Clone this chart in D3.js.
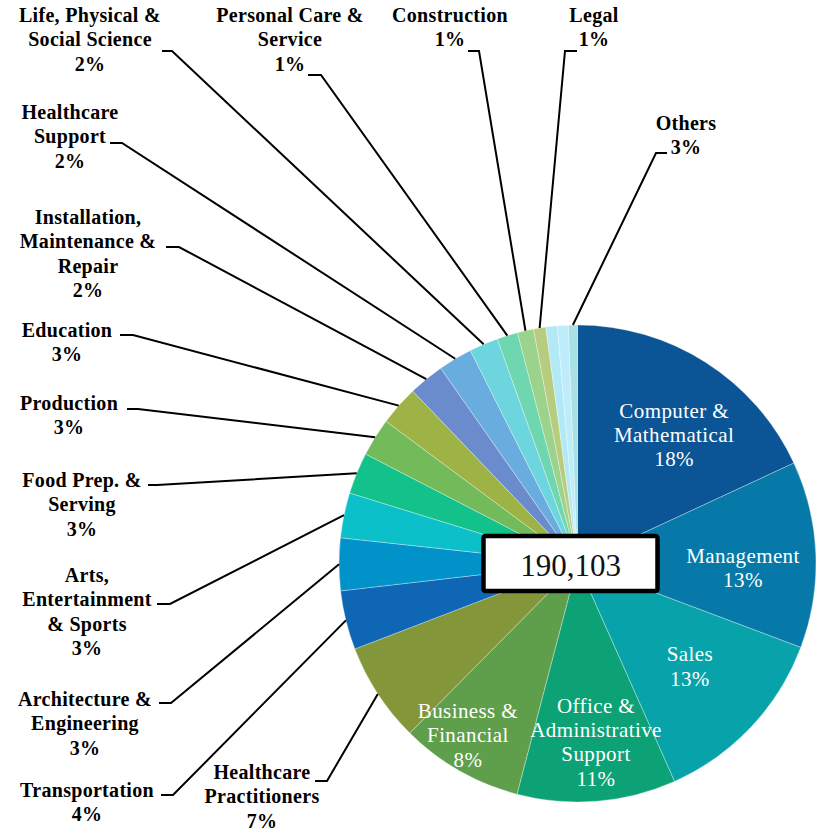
<!DOCTYPE html>
<html>
<head>
<meta charset="utf-8">
<script src="https://cdn.jsdelivr.net/npm/d3@7"></script>
<style>
  body { margin: 0; background: #fff; }
  svg { display: block; }
  text { font-family: "Liberation Serif", "DejaVu Serif", "Times New Roman", serif; }
</style>
</head>
<body>
<svg id="chart"></svg>
<script>
// Occupation categories, clockwise from 12 o'clock ("\n" = line break in label)
const categories = [
  "Computer &\nMathematical", "Management", "Sales",
  "Office &\nAdministrative\nSupport", "Business &\nFinancial",
  "Healthcare\nPractitioners", "Transportation", "Architecture &\nEngineering",
  "Arts,\nEntertainment\n& Sports", "Food Prep. &\nServing", "Production",
  "Education", "Installation,\nMaintenance &\nRepair", "Healthcare\nSupport",
  "Life, Physical &\nSocial Science", "Personal Care &\nService",
  "Construction", "Legal", "", "", "Others"
];

// Employees per category (total 190,103)
const employees = [
  34377, 24027, 23974, 20436, 15842, 12832, 7604, 6759, 5809, 5333, 4911,
  5122, 4594, 4383, 3723, 2683, 2081, 1579, 1468, 1399, 1167
];

// Percent labels as printed on the chart
const shareLabels = [
  "18%", "13%", "13%", "11%", "8%", "7%", "4%", "3%", "3%", "3%", "3%",
  "3%", "2%", "2%", "2%", "1%", "1%", "1%", "", "", "3%"
];

const sliceColors = [
  "#0b5596", "#0679a8", "#08a3aa", "#0da276", "#5f9e4b", "#83963a",
  "#0e66b5", "#0092c9", "#0bc0c9", "#13c28b", "#72ba5a", "#9db345",
  "#6a8ccc", "#68addd", "#6cd5dd", "#6fd7af", "#9bd38c", "#b8cc80",
  "#b3e9f6", "#bdedfa", "#a9e0e4"
];

// Inside label placement for the five big slices: radius factor and angle nudge (rad)
const insideLabelTweak = [
  { k: 0.674, nudge: 0.077 },
  { k: 0.694, nudge: 0.066 },
  { k: 0.639, nudge: -0.014 },
  { k: 0.753, nudge: -0.022 },
  { k: 0.855, nudge: 0.049 }
];

// Where the outside labels sit: text centre x, first line y, leader stub start/end x, stub y
const outsideLabelSpots = {
  "Healthcare\nPractitioners":      { x: 262, y: 772, sx: 315, ex: 327, sy: 781 },
  "Transportation":                 { x: 87,  y: 790, sx: 161, ex: 173, sy: 795 },
  "Architecture &\nEngineering":    { x: 85,  y: 699, sx: 159, ex: 171, sy: 703 },
  "Arts,\nEntertainment\n& Sports": { x: 87,  y: 575, sx: 157, ex: 170, sy: 604 },
  "Food Prep. &\nServing":          { x: 82,  y: 480, sx: 148, ex: 157, sy: 485 },
  "Production":                     { x: 69,  y: 403, sx: 127, ex: 138, sy: 409 },
  "Education":                      { x: 67,  y: 330, sx: 120, ex: 133, sy: 335 },
  "Installation,\nMaintenance &\nRepair": { x: 88, y: 217, sx: 166, ex: 179, sy: 247 },
  "Healthcare\nSupport":            { x: 70,  y: 112, sx: 110, ex: 122, sy: 143 },
  "Life, Physical &\nSocial Science": { x: 90, y: 15, sx: 162, ex: 172, sy: 51 },
  "Personal Care &\nService":       { x: 290, y: 15, sx: 308, ex: 321, sy: 75 },
  "Construction":                   { x: 450, y: 15, sx: 468, ex: 479, sy: 51 },
  "Legal":                          { x: 594, y: 15, sx: 577, ex: 565, sy: 51 },
  "Others":                         { x: 686, y: 123, sx: 667, ex: 656, sy: 153 }
};

const width = 825;
const height = 833;
const cx = 577.5;
const cy = 563.5;
const radius = 238.5;
const lineGap = 24.3;

const svg = d3.select("#chart")
  .attr("width", width)
  .attr("height", height);

const data = categories.map((c, i) => ({
  name: c, value: employees[i], pct: shareLabels[i], color: sliceColors[i], idx: i
}));
const total = d3.sum(employees);

const pie = d3.pie().sort(null).value(d => d.value);
const arcs = pie(data);
const arc = d3.arc().innerRadius(0).outerRadius(radius);
const edgeArc = d3.arc().innerRadius(radius).outerRadius(radius);

const g = svg.append("g").attr("transform", `translate(${cx},${cy})`);

// slices
g.selectAll("path.slice")
  .data(arcs)
  .enter()
  .append("path")
  .attr("class", "slice")
  .attr("d", arc)
  .attr("fill", d => d.data.color)
  .attr("stroke", "#ffffff")
  .attr("stroke-opacity", 0.45)
  .attr("stroke-width", 0.7);

// draw a multi line label centred on x, first line at y
function drawLines(parent, lines, x, y, opts) {
  const t = parent.append("text")
    .attr("text-anchor", "middle")
    .attr("dominant-baseline", "central")
    .attr("font-size", opts.size)
    .attr("font-weight", opts.weight)
    .attr("letter-spacing", opts.spacing)
    .attr("fill", opts.fill);
  lines.forEach((ln, i) => {
    t.append("tspan").attr("x", x).attr("y", y + i * lineGap).text(ln);
  });
}

// inside labels for the five big slices
arcs.filter(d => d.data.idx < 5).forEach(d => {
  const tw = insideLabelTweak[d.data.idx];
  const labelArc = d3.arc().innerRadius(radius * tw.k).outerRadius(radius * tw.k);
  const [px, py] = labelArc.centroid({
    startAngle: d.startAngle + tw.nudge,
    endAngle: d.endAngle + tw.nudge
  });
  const lines = d.data.name.split("\n").concat([d.data.pct]);
  drawLines(g, lines, px, py - (lines.length - 1) * lineGap / 2,
    { size: 21, weight: "normal", spacing: 0.4, fill: "#ffffff" });
});

// outside labels with leader lines
arcs.filter(d => outsideLabelSpots[d.data.name]).forEach(d => {
  const s = outsideLabelSpots[d.data.name];
  const [ex, ey] = edgeArc.centroid(d);
  svg.append("path")
    .attr("d", `M${s.sx},${s.sy}H${s.ex}L${cx + ex},${cy + ey}`)
    .attr("fill", "none")
    .attr("stroke", "#000")
    .attr("stroke-width", 2);
  const lines = d.data.name.split("\n").concat([d.data.pct]);
  drawLines(svg, lines, s.x, s.y,
    { size: 20, weight: "bold", spacing: 0.3, fill: "#000" });
});

// total box in the middle
const boxW = 174;
const boxH = 55;
svg.append("rect")
  .attr("x", cx - 7 - boxW / 2)
  .attr("y", cy - boxH / 2)
  .attr("width", boxW)
  .attr("height", boxH)
  .attr("rx", 2)
  .attr("fill", "#fff")
  .attr("stroke", "#000")
  .attr("stroke-width", 4.5);

svg.append("text")
  .attr("x", cx - 7)
  .attr("y", cy + 2)
  .attr("text-anchor", "middle")
  .attr("dominant-baseline", "central")
  .attr("font-size", 31)
  .attr("fill", "#111")
  .text(d3.format(",")(total));
</script>
</body>
</html>
